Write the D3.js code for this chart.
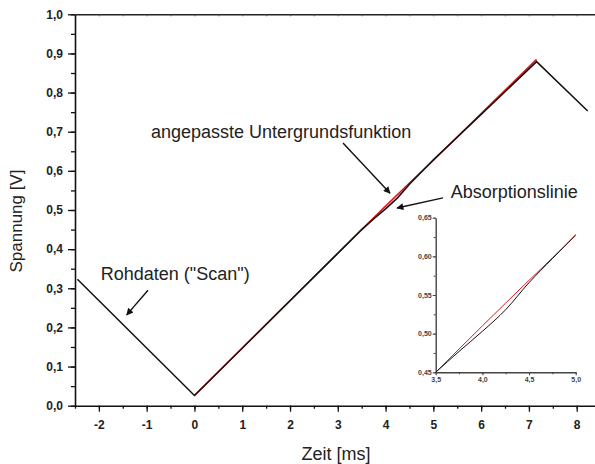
<!DOCTYPE html>
<html>
<meta charset="utf-8">
<style>
 body { margin: 0; background: #fff; }
 text { font-family: "Liberation Sans", Arial, sans-serif; }
 .tick text { font-weight: bold; fill: #222; }
 .ann { font-size: 18px; fill: #222; }
</style>
<body>
<script src="https://cdn.jsdelivr.net/npm/d3@7"></script>
<script>

// raw scan (black) and fitted background (red)
var scanX = [-2.45, 0, 3.5, 3.75, 4.0, 4.25, 4.5, 4.75, 5.0, 7.16, 8.23];
var scanY = [0.323, 0.026, 0.45, 0.477, 0.503, 0.531, 0.566, 0.597, 0.628, 0.879, 0.753];
var fitX = [0, 3.5, 4.0, 4.5, 5.0, 7.16];
var fitY = [0.026, 0.45, 0.51, 0.569, 0.627, 0.885];

var xTicks = [-2, -1, 0, 1, 2, 3, 4, 5, 6, 7, 8];
var yTicks = [0, 0.1, 0.2, 0.3, 0.4, 0.5, 0.6, 0.7, 0.8, 0.9, 1.0];
var insetXTicks = [3.5, 4.0, 4.5, 5.0];
var insetYTicks = [0.45, 0.5, 0.55, 0.6, 0.65];

var width = 595, height = 464;

var svg = d3.select("body").append("svg")
  .attr("width", width)
  .attr("height", height);

var loc = d3.formatLocale({decimal: ",", thousands: ".", grouping: [3], currency: ["", "€"], minus: "-"});
var f1 = loc.format(".1f"), f2 = loc.format(".2f"), fd = loc.format("d");

var x = d3.scaleLinear().domain([-2.5, 8.5]).range([75, 600.6]);
var y = d3.scaleLinear().domain([0, 1]).range([405.7, 14.3]);

var scan = scanX.map(function (d, i) { return [d, scanY[i]]; });
var fit = fitX.map(function (d, i) { return [d, fitY[i]]; });

// minor ticks first
svg.append("g").attr("transform", "translate(0,405.7)")
  .call(d3.axisBottom(x).tickValues(d3.range(-2.5, 8.6, 0.5)).tickSize(3).tickFormat(""))
  .call(function (g) { g.select(".domain").remove(); g.selectAll("line").attr("stroke", "#111").attr("stroke-width", 1.3); });
svg.append("g").attr("transform", "translate(75,0)")
  .call(d3.axisLeft(y).tickValues(d3.range(0, 1.001, 0.05)).tickSize(4).tickFormat(""))
  .call(function (g) { g.select(".domain").remove(); g.selectAll("line").attr("stroke", "#111").attr("stroke-width", 1.3); });
// top frame with tiny ticks
svg.append("g").attr("transform", "translate(0,14.3)")
  .call(d3.axisTop(x).tickValues(d3.range(-2.5, 8.6, 0.5)).tickSize(-2).tickSizeOuter(0).tickFormat(""))
  .call(function (g) { g.select(".domain").attr("stroke", "#222").attr("stroke-width", 1.5); g.selectAll("line").attr("stroke", "#555"); });

var xAxis = svg.append("g").attr("transform", "translate(0,405.7)")
  .call(d3.axisBottom(x).tickValues(xTicks).tickSize(6).tickSizeOuter(0).tickPadding(9).tickFormat(fd));
xAxis.selectAll("text").style("font-size", "12px");

var yAxis = svg.append("g").attr("transform", "translate(75,0)")
  .call(d3.axisLeft(y).tickValues(yTicks).tickSize(7).tickSizeOuter(0).tickPadding(5).tickFormat(f1));
yAxis.selectAll("text").style("font-size", "12px");

[xAxis, yAxis].forEach(function (g) {
  g.select(".domain").attr("stroke", "#111").attr("stroke-width", 1.6);
  g.selectAll(".tick line").attr("stroke", "#111").attr("stroke-width", 1.3);
});

// axis titles
svg.append("text").attr("x", 336).attr("y", 460).attr("text-anchor", "middle")
  .style("font-size", "18px").style("fill", "#222").text("Zeit [ms]");
svg.append("text").attr("transform", "translate(22,221) rotate(-90)").attr("text-anchor", "middle")
  .style("font-size", "17px").style("fill", "#222").text("Spannung [V]");

// main curves
var line = d3.line().x(function (d) { return x(d[0]); }).y(function (d) { return y(d[1]); });
svg.append("path").datum(fit).attr("d", line)
  .attr("fill", "none").attr("stroke", "#e8161b").attr("stroke-width", 1.6);
svg.append("path").datum(scan).attr("d", line)
  .attr("fill", "none").attr("stroke", "#111").attr("stroke-width", 1.5);

// arrows
svg.append("defs").append("marker")
  .attr("id", "arr").attr("viewBox", "0 0 10 10").attr("refX", 9).attr("refY", 5)
  .attr("markerUnits", "userSpaceOnUse").attr("markerWidth", 9).attr("markerHeight", 7)
  .attr("orient", "auto")
  .append("path").attr("d", "M0,0 L10,5 L0,10 Z").attr("fill", "#111");

var notes = [
  {t: 'Rohdaten ("Scan")', tx: -1.96, ty: 0.321, a: [-0.972, 0.295, -1.418, 0.232]},
  {t: "angepasste Untergrundsfunktion", tx: -0.909, ty: 0.684, a: [3.109, 0.671, 4.093, 0.543]},
  {t: "Absorptionslinie", tx: 5.363, ty: 0.531, a: [5.202, 0.531, 4.239, 0.505]}
];
notes.forEach(function (n) {
  svg.append("text").attr("class", "ann").attr("x", x(n.tx)).attr("y", y(n.ty)).text(n.t);
  svg.append("line")
    .attr("x1", x(n.a[0])).attr("y1", y(n.a[1]))
    .attr("x2", x(n.a[2])).attr("y2", y(n.a[3]))
    .attr("stroke", "#111").attr("stroke-width", 1.4)
    .attr("marker-end", "url(#arr)");
});

// inset
var ix = d3.scaleLinear().domain([3.5, 5.0]).range([435.7, 575.7]);
var iy = d3.scaleLinear().domain([0.45, 0.65]).range([372.3, 217.7]);

var inset = svg.append("g");
inset.append("clipPath").attr("id", "ic").append("rect")
  .attr("x", 435.7).attr("y", 217.7).attr("width", 140).attr("height", 154.6);

inset.append("g").attr("transform", "translate(0,372.3)")
  .call(d3.axisBottom(ix).tickValues(d3.range(3.5, 5.01, 0.25)).tickSize(2).tickFormat(""))
  .call(function (g) { g.select(".domain").remove(); g.selectAll("line").attr("stroke", "#444"); });
inset.append("g").attr("transform", "translate(435.7,0)")
  .call(d3.axisLeft(iy).tickValues(d3.range(0.45, 0.651, 0.025)).tickSize(2).tickFormat(""))
  .call(function (g) { g.select(".domain").remove(); g.selectAll("line").attr("stroke", "#444"); });

var ixAxis = inset.append("g").attr("transform", "translate(0,372.3)")
  .call(d3.axisBottom(ix).tickValues(insetXTicks).tickSize(3).tickSizeOuter(0).tickPadding(2).tickFormat(f1));
var iyAxis = inset.append("g").attr("transform", "translate(435.7,0)")
  .call(d3.axisLeft(iy).tickValues(insetYTicks).tickSize(3).tickSizeOuter(0).tickPadding(1).tickFormat(f2));
[ixAxis, iyAxis].forEach(function (g) {
  g.select(".domain").attr("stroke", "#444").attr("stroke-width", 1.4);
  g.selectAll(".tick line").attr("stroke", "#444");
  g.selectAll("text").style("font-size", "7px").style("fill", "#444");
});

var iline = d3.line().x(function (d) { return ix(d[0]); }).y(function (d) { return iy(d[1]); })
  .curve(d3.curveMonotoneX);
var clipped = inset.append("g").attr("clip-path", "url(#ic)");
clipped.append("path").datum(fit).attr("d", iline)
  .attr("fill", "none").attr("stroke", "#e8161b").attr("stroke-width", 1);
clipped.append("path").datum(scan).attr("d", iline)
  .attr("fill", "none").attr("stroke", "#111").attr("stroke-width", 1);

</script>
</body>
</html>
